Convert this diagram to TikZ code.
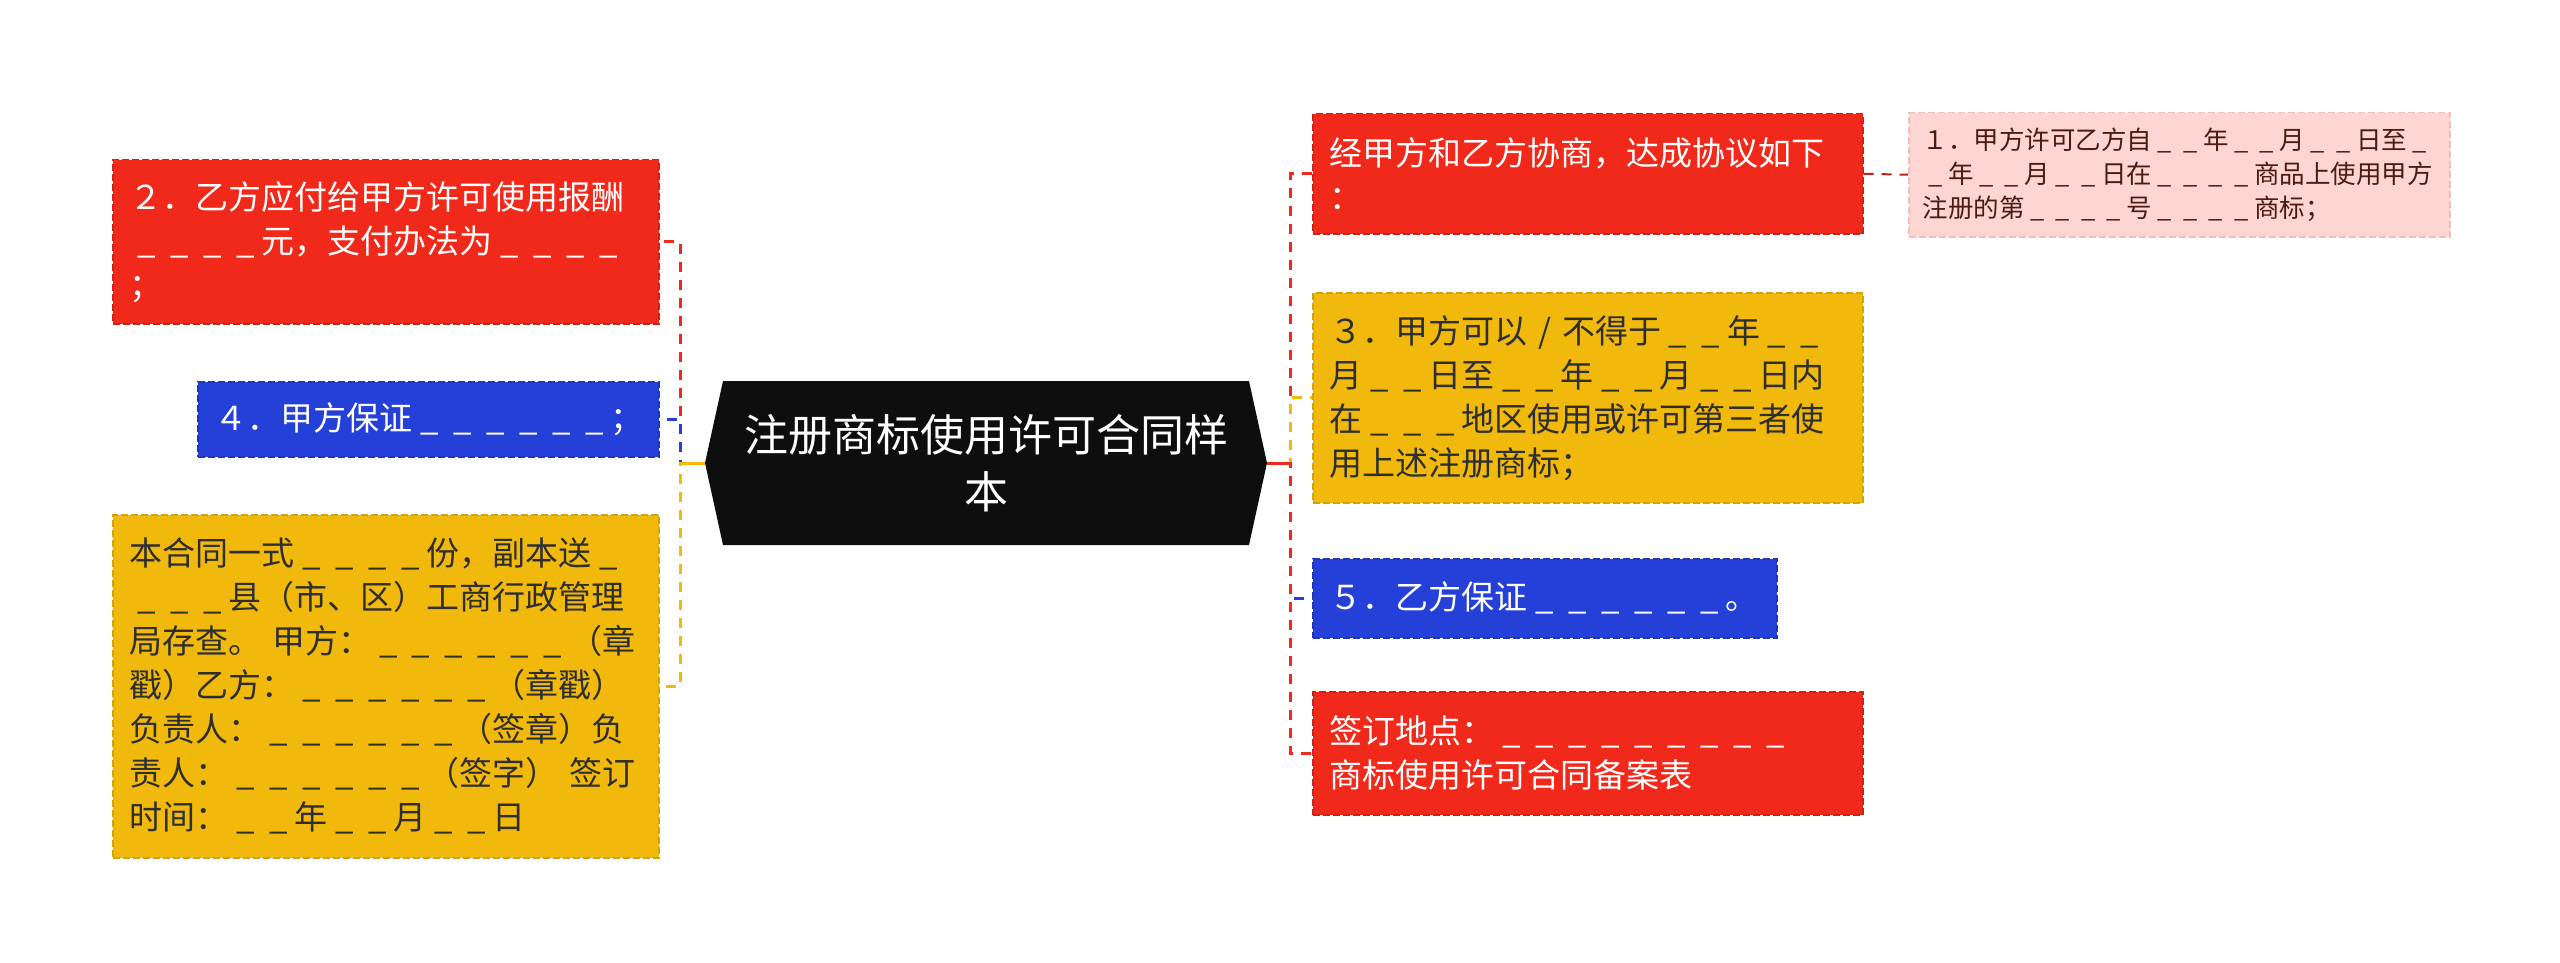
\documentclass[tikz,border=0pt]{standalone}
\usepackage{fontspec}
\setmainfont{Noto Sans CJK SC}
\definecolor{cred}{HTML}{F0291A}
\definecolor{cblue}{HTML}{2440D8}
\definecolor{cyel}{HTML}{F0B90B}
\definecolor{cpink}{HTML}{FDD5D2}
\definecolor{cpinkb}{HTML}{F4BDB8}
\definecolor{ctext}{HTML}{2E2E2E}
\definecolor{cpinktext}{HTML}{4D1A12}
\definecolor{cdark}{HTML}{0E0E0E}
\newcommand\bk{\makebox[1em]{\_}}
\begin{document}
\begin{tikzpicture}[x=1pt,y=-1pt,
  box/.style={rectangle, anchor=north west, inner xsep=17pt, inner ysep=0pt, align=left,
    font=\fontsize{33}{44}\selectfont, dash pattern=on 7pt off 3pt, line width=1.5pt},
  redbox/.style={box, fill=cred, draw=cred!85!black, text=white},
  bluebox/.style={box, fill=cblue, draw=cblue!85!black, text=white},
  yelbox/.style={box, fill=cyel, draw=cyel!88!black, text=ctext},
  pinkbox/.style={box, fill=cpink, draw=cpinkb, text=cpinktext, inner xsep=14pt,
    font=\fontsize{25.5}{34}\selectfont},
  conn/.style={line width=3pt, dash pattern=on 10pt off 8pt},
  stub/.style={line width=3pt}
]
\useasboundingbox (0,0) rectangle (2560,963);

% central node
\fill[cdark] (705,463) -- (723,381) -- (1249,381) -- (1267,463) -- (1249,545) -- (723,545) -- cycle;
\node[text=white, align=center, font=\fontsize{44}{57}\selectfont] (c) at (986,463) {注册商标使用许可合同样\\本};
\coordinate (cl) at (705,463);
\coordinate (cr) at (1267,463);

% left boxes
\node[redbox, text width=512pt, minimum height=164pt] (b2) at (112,159)
  {２．乙方应付给甲方许可使用报酬\\\bk\bk\bk\bk 元，支付办法为\bk\bk\bk\bk\\；};
\node[bluebox, text width=427pt, minimum height=75pt] (b4) at (197,381)
  {４．甲方保证\bk\bk\bk\bk\bk\bk；};
\node[yelbox, text width=512pt, minimum height=343pt] (bl) at (112,514)
  {本合同一式\bk\bk\bk\bk 份，副本送\bk\\\bk\bk\bk 县（市、区）工商行政管理\\局存查。~甲方：\bk\bk\bk\bk\bk\bk（章\\戳）乙方：\bk\bk\bk\bk\bk\bk（章戳）\\负责人：\bk\bk\bk\bk\bk\bk（签章）负\\责人：\bk\bk\bk\bk\bk\bk（签字）~签订\\时间：\bk\bk 年\bk\bk 月\bk\bk 日};

% right boxes
\node[redbox, text width=516pt, minimum height=120pt] (r1) at (1312,113)
  {经甲方和乙方协商，达成协议如下\\：};
\node[pinkbox, text width=513pt, minimum height=124pt] (p1) at (1908,112)
  {１．甲方许可乙方自\bk\bk 年\bk\bk 月\bk\bk 日至\bk\\\bk 年\bk\bk 月\bk\bk 日在\bk\bk\bk\bk 商品上使用甲方\\注册的第\bk\bk\bk\bk 号\bk\bk\bk\bk 商标；};
\node[yelbox, text width=516pt, minimum height=210pt] (r3) at (1312,292)
  {３．甲方可以 / 不得于\bk\bk 年\bk\bk\\月\bk\bk 日至\bk\bk 年\bk\bk 月\bk\bk 日内\\在\bk\bk\bk 地区使用或许可第三者使\\用上述注册商标；};
\node[bluebox, text width=430pt, minimum height=79pt] (r5) at (1312,558)
  {５．乙方保证\bk\bk\bk\bk\bk\bk。};
\node[redbox, text width=516pt, minimum height=123pt] (r6) at (1312,691)
  {签订地点：\bk\bk\bk\bk\bk\bk\bk\bk\bk\\商标使用许可合同备案表};

% connectors left
\draw[conn, cred] (cl) -- ++(-25,0) |- (b2.east);
\draw[conn, cblue] (cl) -- ++(-25,0) |- (b4.east);
\draw[conn, cyel] (cl) -- ++(-25,0) |- (bl.east);
\draw[stub, cyel] (cl) -- ++(-25,0);
% connectors right
\draw[conn, cred] (cr) -- ++(23,0) |- (r1.west);
\draw[conn, cyel] (cr) -- ++(23,0) |- (r3.west);
\draw[conn, cblue] (cr) -- ++(23,0) |- (r5.west);
\draw[conn, cred] (cr) -- ++(23,0) |- (r6.west);
\draw[stub, cred] (cr) -- ++(23,0);
\draw[conn, cred!80!black, line width=2pt] (r1.east) -- (p1.west);
\end{tikzpicture}
\end{document}
